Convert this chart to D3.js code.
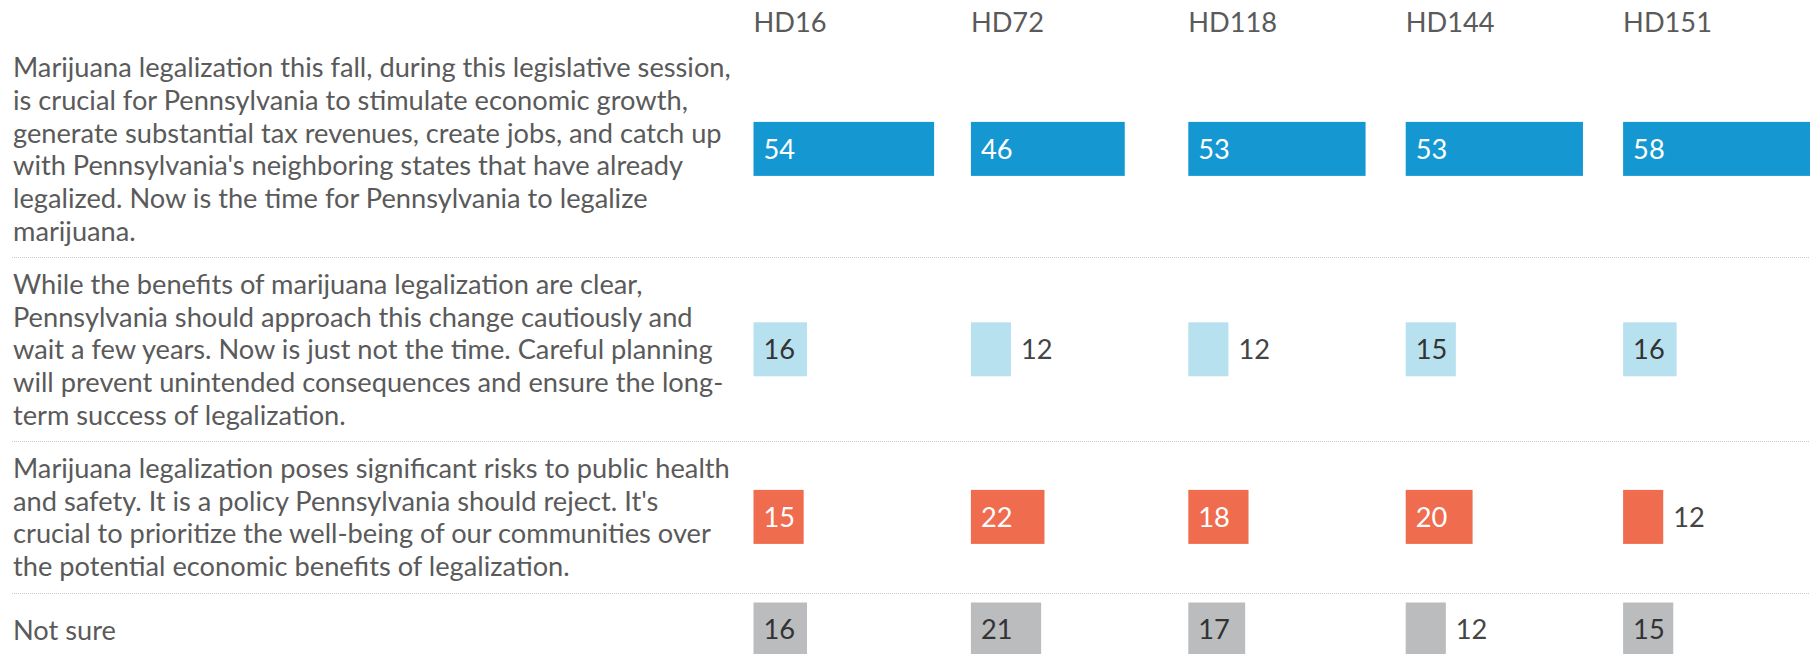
<!DOCTYPE html>
<html>
<head>
<meta charset="utf-8">
<script src="https://cdn.jsdelivr.net/npm/d3@7"></script>
<style>
  html, body { margin: 0; padding: 0; background: #fff; }
  svg { display: block; }
</style>
</head>
<body>
<svg id="chart" width="1810" height="654"></svg>
<script>
// ---- data ----
const districts = ["HD16", "HD72", "HD118", "HD144", "HD151"];
const statements = [
  "Marijuana legalization this fall, during this legislative session,\nis crucial for Pennsylvania to stimulate economic growth,\ngenerate substantial tax revenues, create jobs, and catch up\nwith Pennsylvania's neighboring states that have already\nlegalized. Now is the time for Pennsylvania to legalize\nmarijuana.",
  "While the benefits of marijuana legalization are clear,\nPennsylvania should approach this change cautiously and\nwait a few years. Now is just not the time. Careful planning\nwill prevent unintended consequences and ensure the long-\nterm success of legalization.",
  "Marijuana legalization poses significant risks to public health\nand safety. It is a policy Pennsylvania should reject. It's\ncrucial to prioritize the well-being of our communities over\nthe potential economic benefits of legalization.",
  "Not sure"
];
const legalizeNow   = [54, 46, 53, 53, 58];
const waitFewYears  = [16, 12, 12, 15, 16];
const rejectPolicy  = [15, 22, 18, 20, 12];
const notSure       = [16, 21, 17, 12, 15];
const seriesValues  = [legalizeNow, waitFewYears, rejectPolicy, notSure];

// ---- styles ----
const barColors   = ["#1598d2", "#b8e1f0", "#f06c4f", "#bbbcbe"];
const inLabelCols = ["#ffffff", "#333333", "#ffffff", "#333333"];
const textColor = "#5a5a5a";
const fontFamily = "Lato, 'Open Sans', sans-serif";

const W = 1810, H = 654;
const svg = d3.select("#chart");

// calibrate font size so the widest statement line matches the reference width
const probe = svg.append("text").attr("font-family", fontFamily).attr("font-size", 100)
  .text(statements[0].split("\n")[0]);
const probeW = probe.node().getComputedTextLength();
probe.remove();
const fontSize = 100 * 718 / probeW;

const textX = 13;
const lineH = 32.8;
const rowPad = 20;
const barH = 54;
const minRowH = barH + 20;

// row layout
const rows = statements.map(s => s.split("\n"));
let y0 = 40.5;
const rowLayout = rows.map(lines => {
  const h = Math.max(lines.length * lineH + rowPad, minRowH);
  const r = { top: y0, h: h, cy: y0 + h / 2 };
  y0 += h;
  return r;
});

// scales
const colStep = 217.4;
const xBand = d3.scaleBand().domain(districts)
  .range([753.5, 753.5 + colStep * districts.length]).paddingInner(0).paddingOuter(0);
const xVal = d3.scaleLinear().domain([0, 65]).range([0, xBand.bandwidth()]);

// header
svg.append("g").selectAll("text").data(districts).join("text")
  .attr("x", d => xBand(d))
  .attr("y", 31.5)
  .attr("font-family", fontFamily)
  .attr("font-size", fontSize)
  .attr("fill", textColor)
  .text(d => d);

// separators
svg.append("g").selectAll("line").data(rowLayout.slice(0, -1)).join("line")
  .attr("x1", 12).attr("x2", W)
  .attr("y1", d => Math.round(d.top + d.h) + 0.5)
  .attr("y2", d => Math.round(d.top + d.h) + 0.5)
  .attr("stroke", "#c8c8c8")
  .attr("stroke-width", 1)
  .attr("stroke-dasharray", "1,1");

// statements (vertically centred in their row)
const rowG = svg.append("g").selectAll("g").data(rows).join("g");
rowG.each(function(lines, i) {
  const g = d3.select(this);
  const t = g.append("text")
    .attr("font-family", fontFamily)
    .attr("font-size", fontSize)
    .attr("fill", textColor);
  const blockTop = rowLayout[i].cy - lines.length * lineH / 2;
  lines.forEach((ln, j) => {
    t.append("tspan")
      .attr("x", textX)
      .attr("y", blockTop + lineH / 2 + j * lineH + fontSize * 0.37)
      .text(ln);
  });
});

// bars
seriesValues.forEach((vals, i) => {
  const cy = rowLayout[i].cy;
  const data = districts.map((d, k) => ({ d, v: vals[k] }));
  const g = svg.append("g");
  g.selectAll("rect").data(data).join("rect")
    .attr("x", p => xBand(p.d))
    .attr("y", cy - barH / 2)
    .attr("width", p => xVal(p.v))
    .attr("height", barH)
    .attr("fill", barColors[i]);
  g.selectAll("text").data(data).join("text")
    .attr("font-family", fontFamily)
    .attr("font-size", fontSize)
    .attr("y", cy + fontSize * 0.36)
    .text(p => p.v)
    .each(function(p) {
      const tw = this.getComputedTextLength();
      const bw = xVal(p.v);
      const inside = bw >= tw + 14;
      d3.select(this)
        .attr("x", inside ? xBand(p.d) + 10 : xBand(p.d) + bw + 10)
        .attr("fill", inside ? inLabelCols[i] : "#444444");
    });
});
</script>
</body>
</html>
